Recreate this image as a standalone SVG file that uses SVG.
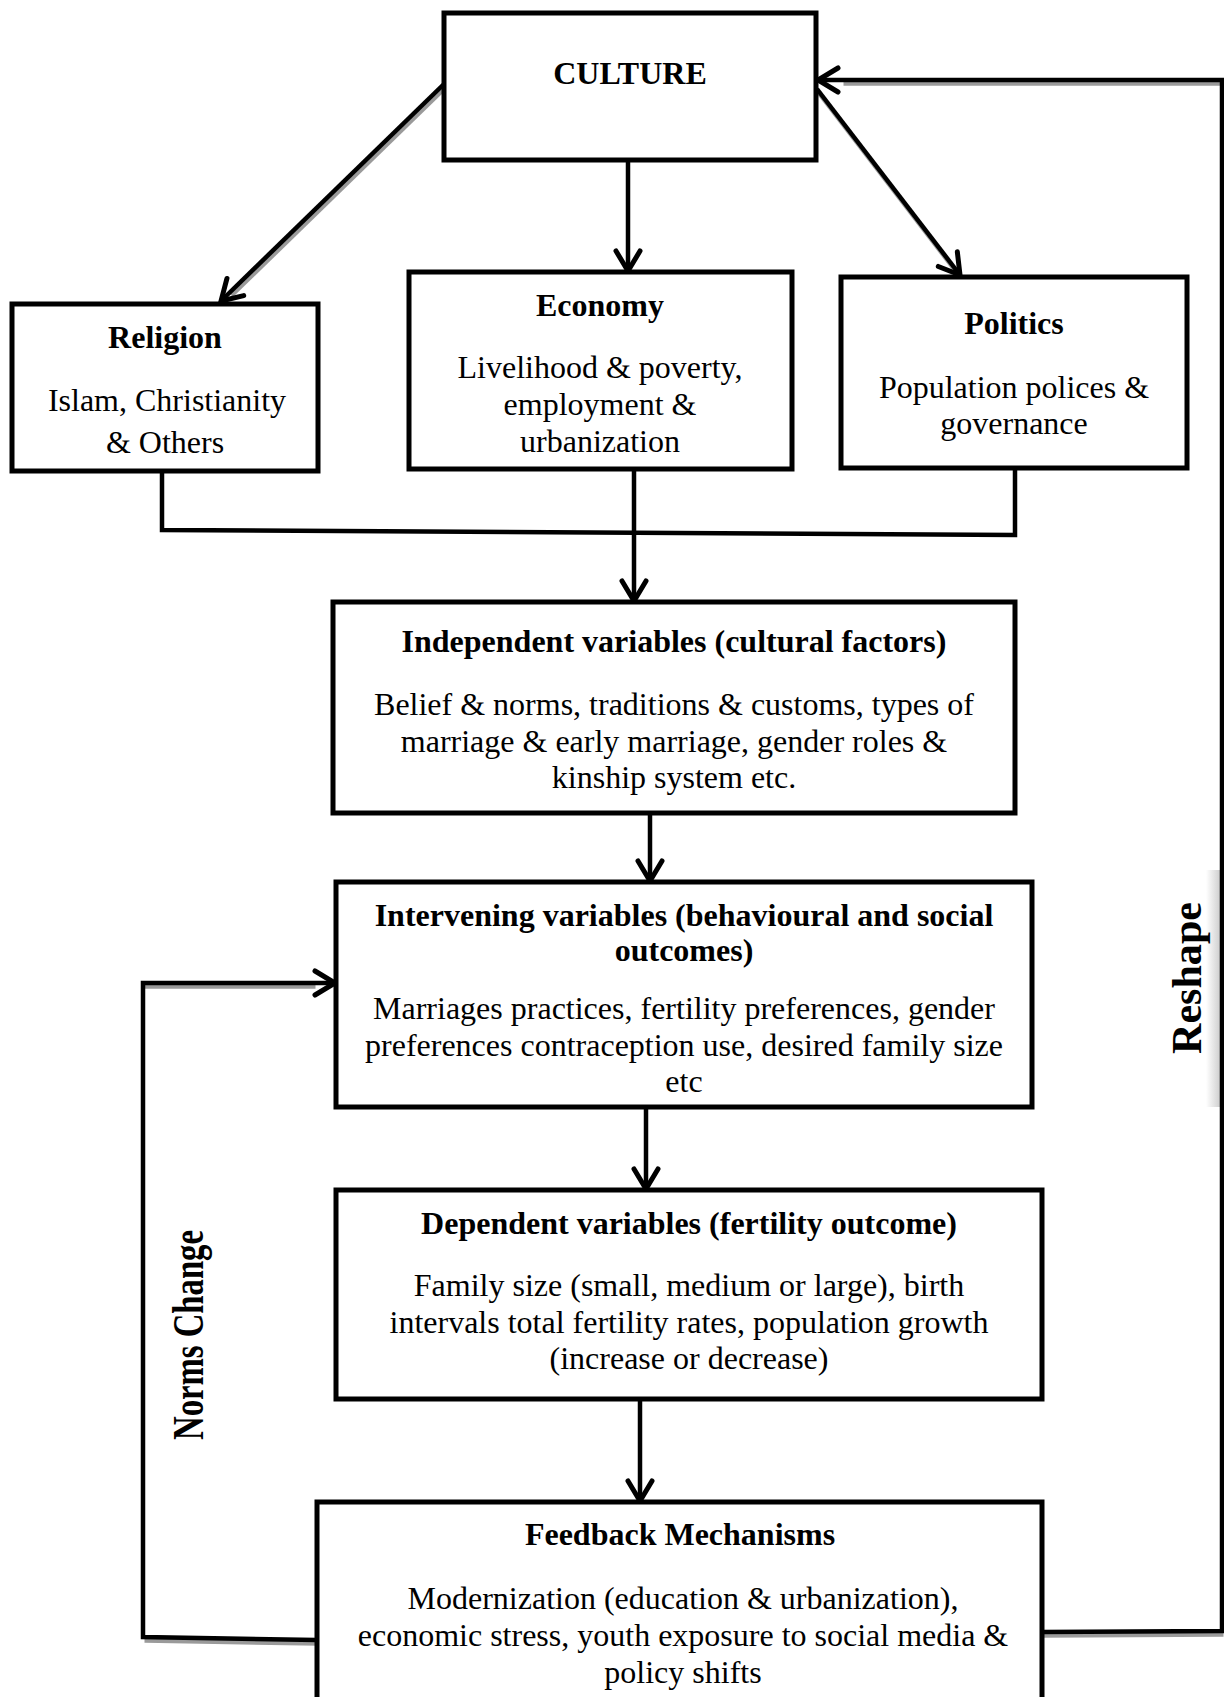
<svg xmlns="http://www.w3.org/2000/svg" width="1224" height="1697" viewBox="0 0 1224 1697">
<style>
text{font-family:"Liberation Serif","Times New Roman",serif;font-size:32px;fill:#000;text-anchor:middle}
.b{font-weight:bold}
.box{fill:#fff;stroke:#000;stroke-width:5}
.ln{fill:none;stroke:#000;stroke-width:4.5;stroke-linejoin:miter}
.sh{fill:none;stroke:#9a9a9a;stroke-width:4.5}
</style>
<defs>
<marker id="arr" markerUnits="userSpaceOnUse" viewBox="-26 -16 30 32" refX="0" refY="0" markerWidth="30" markerHeight="32" orient="auto">
<path d="M-20,-12 L0,0 L-20,12" fill="none" stroke="#000" stroke-width="5" stroke-linecap="round"/>
</marker>
<linearGradient id="rg" x1="0" x2="1" y1="0" y2="0">
<stop offset="0" stop-color="#fff"/>
<stop offset="1" stop-color="#cfcfcf"/>
</linearGradient>
</defs>

<g id="reshape-bg">
<rect x="1150" y="870" width="70" height="237" fill="#fff"/>
<rect x="1206" y="870" width="14" height="237" fill="url(#rg)"/>
</g>

<g id="connectors">
<g transform="translate(1.5,3.5)">
<polyline class="sh" points="1222,80 842,80"/>
<polyline class="sh" points="143,983 314,983"/>
<polyline class="sh" points="143,1637 317,1640"/>
<polyline class="sh" points="1042,1632 1222,1631"/>
<line class="sh" x1="444" y1="84" x2="230" y2="292"/>
<line class="sh" x1="817" y1="89" x2="953" y2="266"/>
</g>
<line class="ln" x1="444" y1="84" x2="221" y2="301" marker-end="url(#arr)"/>
<line class="ln" x1="628" y1="160" x2="628" y2="271" marker-end="url(#arr)"/>
<line class="ln" x1="817" y1="89" x2="960" y2="275" marker-end="url(#arr)"/>
<polyline class="ln" points="162,471 162,530 1015,535 1015,468"/>
<line class="ln" x1="634" y1="464" x2="634" y2="601" marker-end="url(#arr)"/>
<line class="ln" x1="650" y1="813" x2="650" y2="881" marker-end="url(#arr)"/>
<line class="ln" x1="646" y1="1107" x2="646" y2="1189" marker-end="url(#arr)"/>
<line class="ln" x1="640" y1="1399" x2="640" y2="1501" marker-end="url(#arr)"/>
<polyline class="ln" points="317,1640 143,1637 143,983 335,983" marker-end="url(#arr)"/>
<polyline class="ln" points="1042,1632 1222,1631 1222,80 818,80" marker-end="url(#arr)"/>
</g>

<g id="culture">
<rect class="box" x="444" y="13" width="372" height="147"/>
<text class="b" x="630" y="84">CULTURE</text>
</g>

<g id="religion">
<rect class="box" x="12" y="304" width="306" height="167"/>
<text class="b" x="165" y="348">Religion</text>
<text x="167" y="411">Islam, Christianity</text>
<text x="165" y="453">&amp; Others</text>
</g>

<g id="economy">
<rect class="box" x="409" y="272" width="383" height="197"/>
<text class="b" x="600" y="316">Economy</text>
<text x="600" y="378">Livelihood &amp; poverty,</text>
<text x="600" y="415">employment &amp;</text>
<text x="600" y="452">urbanization</text>
</g>

<g id="politics">
<rect class="box" x="841" y="277" width="346" height="191"/>
<text class="b" x="1014" y="334">Politics</text>
<text x="1014" y="398">Population polices &amp;</text>
<text x="1014" y="434">governance</text>
</g>

<g id="independent">
<rect class="box" x="333" y="602" width="682" height="211"/>
<text class="b" x="674" y="652">Independent variables (cultural factors)</text>
<text x="674" y="715">Belief &amp; norms, traditions &amp; customs, types of</text>
<text x="674" y="752">marriage &amp; early marriage, gender roles &amp;</text>
<text x="674" y="788">kinship system etc.</text>
</g>

<g id="intervening">
<rect class="box" x="336" y="882" width="696" height="225"/>
<text class="b" x="684" y="926">Intervening variables (behavioural and social</text>
<text class="b" x="684" y="961">outcomes)</text>
<text x="684" y="1019">Marriages practices, fertility preferences, gender</text>
<text x="684" y="1056">preferences contraception use, desired family size</text>
<text x="684" y="1092">etc</text>
</g>

<g id="dependent">
<rect class="box" x="336" y="1190" width="706" height="209"/>
<text class="b" x="689" y="1234">Dependent variables (fertility outcome)</text>
<text x="689" y="1296">Family size (small, medium or large), birth</text>
<text x="689" y="1333">intervals total fertility rates, population growth</text>
<text x="689" y="1369">(increase or decrease)</text>
</g>

<g id="feedback">
<rect class="box" x="317" y="1502" width="725" height="230"/>
<text class="b" x="680" y="1545">Feedback Mechanisms</text>
<text x="683" y="1609">Modernization (education &amp; urbanization),</text>
<text x="683" y="1646">economic stress, youth exposure to social media &amp;</text>
<text x="683" y="1683">policy shifts</text>
</g>

<g id="labels">
<text class="b" transform="translate(203,1335) rotate(-90)" style="font-size:44px" textLength="210" lengthAdjust="spacingAndGlyphs">Norms Change</text>
<text class="b" transform="translate(1201,978) rotate(-90)" style="font-size:42px" textLength="152" lengthAdjust="spacingAndGlyphs">Reshape</text>
</g>
</svg>
